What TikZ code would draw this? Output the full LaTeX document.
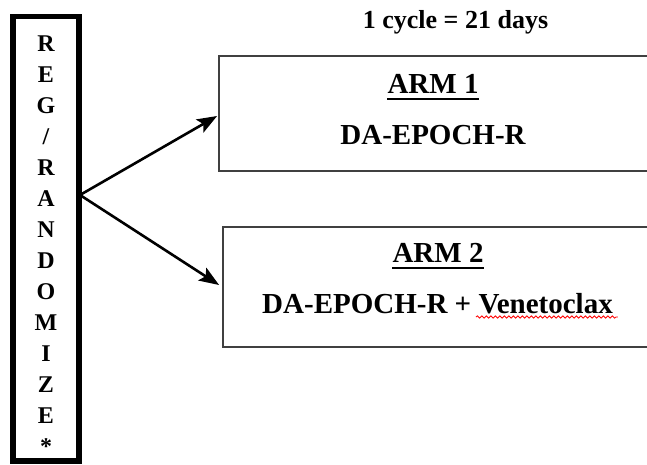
\documentclass[tikz,border=0pt]{standalone}
\usepackage{fontspec}
\setmainfont{Liberation Serif}
\usetikzlibrary{arrows.meta,decorations.pathmorphing}
\tikzset{every picture/.style={ampersand replacement=\&}}

\begin{document}
\begin{tikzpicture}[x=1pt,y=-1pt,
  regbox/.style={draw, line width=5.5pt, minimum width=66pt, minimum height=444.5pt, inner sep=0pt},
  regtext/.style={align=center, inner sep=0pt, font={\fontsize{24}{31}\selectfont\bfseries}},
  armbox/.style={draw=black!75, line width=1.8pt, minimum width=429pt, inner sep=0pt},
  armtext/.style={inner sep=0pt, font={\fontsize{29}{34}\selectfont\bfseries}},
  split/.style={-{Stealth[length=20pt,width=15pt,inset=4pt]}, line width=2.6pt}]
  \useasboundingbox (0,0) rectangle (647,464);
  \node[font={\fontsize{26}{30}\selectfont\bfseries}, inner sep=0pt, anchor=base] (cycle) at (455.5,28) {1 cycle = 21 days};
  \node[regbox] (reg) at (46,238.75) {};
  \node[regtext, anchor=north] (regtxt) at (46,36) {R\\E\\G\\/\\R\\A\\N\\D\\O\\M\\I\\Z\\E\\*};
  \node[armbox, minimum height=115pt] (arm1) at (433.5,113.5) {};
  \node[armbox, minimum height=120pt] (arm2) at (437.5,287) {};
  \node[armtext, anchor=base] (arm1title) at (433,93) {ARM 1};
  \node[armtext, anchor=base] (arm1drug) at (433,144) {DA-EPOCH-R};
  \node[armtext, anchor=base] (arm2title) at (438,262) {ARM 2};
  \node[armtext, anchor=base] (arm2drug) at (437.5,313) {DA-EPOCH-R + Venetoclax};
  % underlined titles
  \draw[line width=1.8pt] ([yshift=-6pt]arm1title.base west) -- ([yshift=-6pt]arm1title.base east);
  \draw[line width=1.8pt] ([yshift=-6pt]arm2title.base west) -- ([yshift=-6pt]arm2title.base east);
  \draw[red, line width=0.8pt, decorate, decoration={snake, amplitude=1.1pt, segment length=4.5pt}]
    ([xshift=-137pt,yshift=-4pt]arm2drug.base east) -- ([xshift=5pt,yshift=-4pt]arm2drug.base east);
  \coordinate (fork) at (80,195);
  \draw[split] (fork) -- ([xshift=-1pt,yshift=-2.5pt]arm1.west);
  \draw[split] (fork) -- ([xshift=-3pt,yshift=2pt]arm2.west);
\end{tikzpicture}
\end{document}
